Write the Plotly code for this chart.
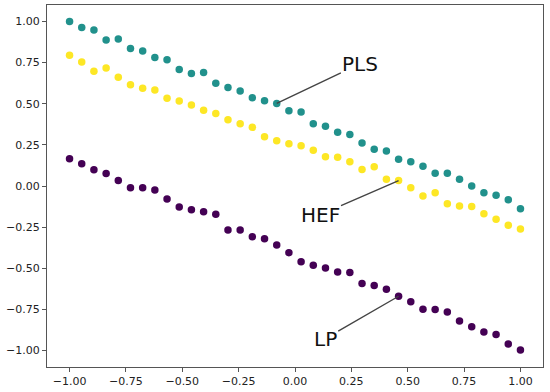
import numpy as np
import plotly.graph_objects as go

x_vals = np.linspace(-1, 1, 38)

pls = [1.00, 0.963, 0.948, 0.887, 0.894, 0.836, 0.821, 0.781, 0.767, 0.708,
       0.684, 0.690, 0.625, 0.598, 0.578, 0.537, 0.518, 0.502, 0.458, 0.449,
       0.379, 0.363, 0.327, 0.313, 0.262, 0.224, 0.212, 0.163, 0.147, 0.120,
       0.078, 0.078, 0.041, 0.000, -0.041, -0.056, -0.084, -0.139]

hef = [0.795, 0.753, 0.697, 0.717, 0.661, 0.616, 0.594, 0.584, 0.533, 0.517,
       0.492, 0.461, 0.441, 0.402, 0.378, 0.357, 0.299, 0.275, 0.257, 0.244,
       0.218, 0.178, 0.174, 0.147, 0.100, 0.117, 0.041, 0.033, -0.011, -0.061,
       -0.041, -0.108, -0.121, -0.125, -0.169, -0.202, -0.238, -0.261]

lp = [0.165, 0.135, 0.098, 0.076, 0.033, -0.010, -0.010, -0.024, -0.079, -0.128,
      -0.145, -0.157, -0.171, -0.267, -0.267, -0.308, -0.321, -0.359, -0.405, -0.461,
      -0.481, -0.499, -0.523, -0.525, -0.593, -0.605, -0.627, -0.670, -0.703, -0.749,
      -0.750, -0.766, -0.820, -0.855, -0.888, -0.903, -0.960, -0.997]

series_names = ["LP", "HEF", "PLS"]
series_colors = ["#440154", "#fde725", "#21918c"]
series_values = [lp, hef, pls]

# annotation: label, index of point pointed at, label centre position
ann_labels = ["PLS", "HEF", "LP"]
ann_series = [pls, hef, lp]
ann_index = [17, 27, 27]
ann_text_x = [0.290, 0.111, 0.134]
ann_text_y = [0.743, -0.175, -0.928]

tick_vals = [-1.0, -0.75, -0.5, -0.25, 0.0, 0.25, 0.5, 0.75, 1.0]

fig = go.Figure()
for name, color, vals in zip(series_names, series_colors, series_values):
    fig.add_trace(go.Scatter(
        x=x_vals, y=vals, mode="markers", name=name,
        marker=dict(color=color, size=7.5, line=dict(width=0)),
        showlegend=False,
    ))

for lab, ser, idx, tx, ty in zip(ann_labels, ann_series, ann_index, ann_text_x, ann_text_y):
    fig.add_annotation(
        x=x_vals[idx], y=ser[idx], xref="x", yref="y",
        ax=tx, ay=ty, axref="x", ayref="y",
        text=lab, showarrow=True, arrowhead=0, arrowwidth=1.4,
        arrowcolor="#444444", standoff=0,
        font=dict(family="DejaVu Sans", size=20, color="#111111"),
    )

axis_common = dict(
    showgrid=False, zeroline=False, showline=True, mirror=True,
    linecolor="#555555", linewidth=1.2,
    ticks="outside", ticklen=4, tickwidth=1, tickcolor="#555555",
    tickvals=tick_vals, tickformat=".2f", automargin=False,
    tickfont=dict(family="DejaVu Sans", size=11, color="#222222"),
)

fig.update_xaxes(range=[-1.1, 1.1], **axis_common)
fig.update_yaxes(range=[-1.1, 1.1], **axis_common)

fig.update_layout(
    width=550, height=392,
    margin=dict(l=47, r=7, t=5, b=25),
    plot_bgcolor="white", paper_bgcolor="white",
)

fig.write_html("out.html", config={"displayModeBar": False},
               post_script="document.body.style.margin='0';")
